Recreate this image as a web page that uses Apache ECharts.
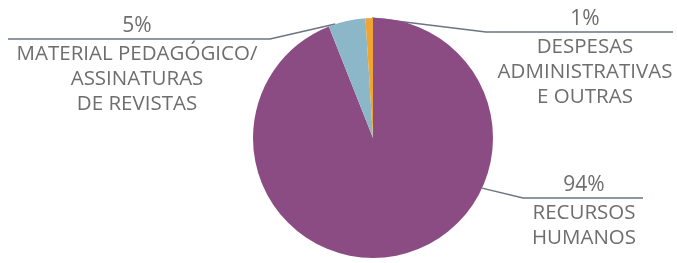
<!DOCTYPE html>
<html><head><meta charset="utf-8">
<script src="https://cdn.jsdelivr.net/npm/echarts@6/dist/echarts.min.js"></script>
<style>html,body{margin:0;padding:0;background:#fff}#c{width:677px;height:263px}</style>
</head><body><div id="c"></div>
<script>
const categories = ['RECURSOS\nHUMANOS', 'MATERIAL PEDAGÓGICO/\nASSINATURAS\nDE REVISTAS', 'DESPESAS\nADMINISTRATIVAS\nE OUTRAS'];
const values = [94, 5, 1];
const percentLabels = ['94%', '5%', '1%'];
const colors = ['#8b4c84', '#8cb7c9', '#f0a432'];

// label layout: [edge angle (deg clockwise from top), bendX, lineEndX, lineY, textCenterX]
const labelGuides = [
  [114.7, 523, 643, 198, 584],
  [-18.3, 270, 8, 39, 137],
  [-0.5, 486, 673, 32, 585]
];
const CX = 373, CY = 138, R = 120;

const chart = echarts.init(document.getElementById('c'));
chart.setOption({
  animation: false,
  backgroundColor: '#ffffff',
  series: [{
    type: 'pie',
    center: [CX, CY],
    radius: R,
    startAngle: 90,
    clockwise: true,
    data: values.map((v, i) => ({
      value: v,
      name: categories[i],
      itemStyle: { color: colors[i] }
    })),
    label: {
      show: true,
      formatter: p => '{p|' + percentLabels[p.dataIndex] + '}\n' +
        p.name.split('\n').map(s => '{n|' + s + '}').join('\n'),
      rich: {
        p: { fontFamily: 'Open Sans', fontSize: 21, color: '#6e6e70', lineHeight: 31, align: 'center' },
        n: { fontFamily: 'Open Sans', fontSize: 20.5, color: '#6e6e70', lineHeight: 25, align: 'center' }
      }
    },
    labelLine: { show: true, lineStyle: { color: '#6a7482', width: 1.5 } },
    labelLayout: function (params) {
      const g = labelGuides[params.dataIndex];
      const a = g[0] * Math.PI / 180;
      const sx = CX + R * Math.sin(a), sy = CY - R * Math.cos(a);
      return {
        x: g[4],
        y: g[3] - 28.5,
        align: 'center',
        verticalAlign: 'top',
        labelLinePoints: [[sx, sy], [g[1], g[3]], [g[2], g[3]]]
      };
    }
  }]
});
</script>
</body></html>
